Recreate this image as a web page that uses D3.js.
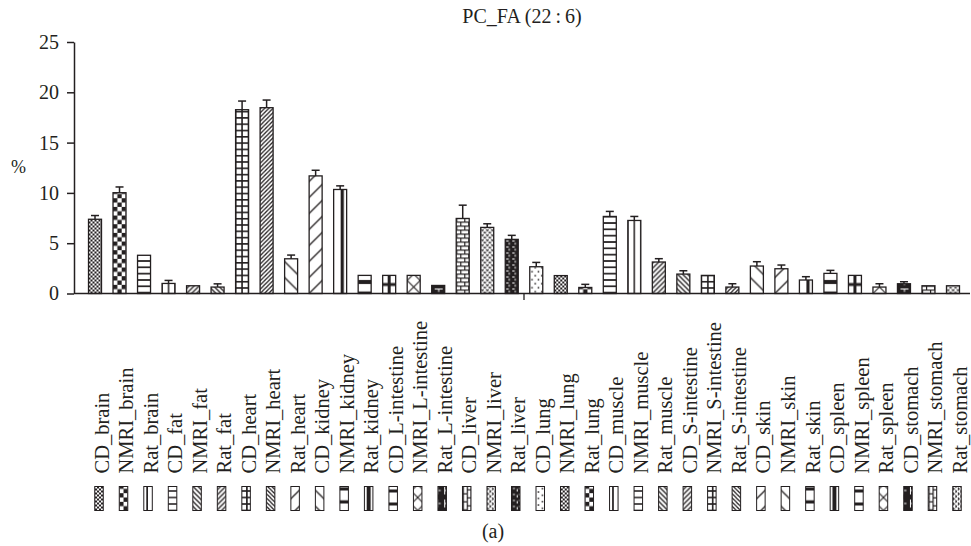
<!DOCTYPE html>
<html>
<head>
<meta charset="utf-8">
<script src="https://cdn.jsdelivr.net/npm/d3@7"></script>
<style>
  html, body { margin: 0; padding: 0; background: #fff; }
  svg { display: block; }
  text { font-family: "Liberation Serif", "Times New Roman", serif; fill: #231f20; }
</style>
</head>
<body>
<svg id="chart" width="971" height="546"></svg>
<script>
// Tissue samples, mean percentage and upper error (SD)
const categories = [
  "CD_brain", "NMRI_brain", "Rat_brain", "CD_fat", "NMRI_fat", "Rat_fat",
  "CD_heart", "NMRI_heart", "Rat_heart", "CD_kidney", "NMRI_kidney", "Rat_kidney",
  "CD_L-intestine", "NMRI_L-intestine", "Rat_L-intestine", "CD_liver", "NMRI_liver", "Rat_liver",
  "CD_lung", "NMRI_lung", "Rat_lung", "CD_muscle", "NMRI_muscle", "Rat_muscle",
  "CD_S-intestine", "NMRI_S-intestine", "Rat_S-intestine", "CD_skin", "NMRI_skin", "Rat_skin",
  "CD_spleen", "NMRI_spleen", "Rat_spleen", "CD_stomach", "NMRI_stomach", "Rat_stomach"
];
const values = [
  7.38, 10.02, 3.8, 1.0, 0.77, 0.64,
  18.27, 18.47, 3.45, 11.69, 10.34, 1.8,
  1.8, 1.8, 0.8, 7.46, 6.57, 5.38,
  2.66, 1.78, 0.6, 7.66, 7.26, 3.13,
  1.93, 1.8, 0.64, 2.73, 2.46, 1.34,
  2.0, 1.8, 0.64, 0.97, 0.77, 0.77
];
const errors = [
  0.37, 0.57, 0, 0.3, 0, 0.32,
  0.86, 0.76, 0.37, 0.56, 0.36, 0,
  0, 0, 0, 1.32, 0.36, 0.4,
  0.43, 0, 0.31, 0.5, 0.4, 0.33,
  0.33, 0, 0.33, 0.43, 0.37, 0.33,
  0.3, 0, 0.33, 0.2, 0, 0
];
const yTicks = [0, 5, 10, 15, 20, 25];
const title = "PC_FA (22\u2009:\u20096)";
const yLabel = "%";
const panelLabel = "(a)";

const INK = "#231f20";
const svg = d3.select("#chart");

// Plot frame
const plotLeft = 74, plotRight = 970, plotTop = 42, plotBottom = 293.5;

const x = d3.scaleBand()
  .domain(categories)
  .range([plotLeft + 8.75, plotRight - 4.75])
  .paddingInner(0.47)
  .paddingOuter(0.235);

const y = d3.scaleLinear().domain([0, 25]).range([plotBottom, plotTop]);

// ---------- fill patterns (cycled over the categories) ----------
const defs = svg.append("defs");
const rectIn = (p, x0, y0, w, h, c = INK) =>
  p.append("rect").attr("x", x0).attr("y", y0).attr("width", w).attr("height", h).attr("fill", c);
const pathIn = (p, d, sw, c = INK) =>
  p.append("path").attr("d", d).attr("fill", "none").attr("stroke", c).attr("stroke-width", sw);

function makePattern(id, w, h, draw, bg = "#fff") {
  const p = defs.append("pattern")
    .attr("id", id)
    .attr("patternUnits", "userSpaceOnUse")
    .attr("width", w).attr("height", h);
  p.append("rect").attr("width", w).attr("height", h).attr("fill", bg);
  draw(p);
}
const fwd = s => `M0,${s} L${s},0 M-1,1 L1,-1 M${s - 1},${s + 1} L${s + 1},${s - 1}`;
const back = s => `M0,0 L${s},${s} M-1,${s - 1} L1,${s + 1} M${s - 1},-1 L${s + 1},1`;

const patternMakers = [
  // 0 fine checker
  id => makePattern(id, 4, 4, p => { rectIn(p, 0, 0, 2, 2); rectIn(p, 2, 2, 2, 2); }),
  // 1 large checker
  id => makePattern(id, 8.66, 8.66, p => { rectIn(p, 0, 0, 4.33, 4.33); rectIn(p, 4.33, 4.33, 4.33, 4.33); }),
  // 2 horizontal lines
  id => makePattern(id, 13, 6.33, p => { rectIn(p, 0, 4.63, 13, 1.7); }),
  // 3 vertical lines
  id => makePattern(id, 6.5, 10, p => { rectIn(p, 0, 0, 0.75, 10); rectIn(p, 5.75, 0, 0.75, 10); }),
  // 4 forward diagonal
  id => makePattern(id, 5, 5, p => pathIn(p, fwd(5), 1.3)),
  // 5 backward diagonal
  id => makePattern(id, 5, 5, p => pathIn(p, back(5), 1.3)),
  // 6 grid
  id => makePattern(id, 6.5, 6.3, p => {
    rectIn(p, 0, 0, 6.5, 1.6); rectIn(p, 0, 0, 0.8, 6.3); rectIn(p, 5.7, 0, 0.8, 6.3);
  }),
  // 7 dense forward diagonal
  id => makePattern(id, 4.2, 4.2, p => pathIn(p, fwd(4.2), 1.3)),
  // 8 wide backward diagonal
  id => makePattern(id, 16, 16, p => pathIn(p, back(16), 1.3)),
  // 9 wide forward diagonal
  id => makePattern(id, 16, 16, p => pathIn(p, fwd(16), 1.3)),
  // 10 heavy vertical stripe
  id => makePattern(id, 13, 10, p => { rectIn(p, 7, 0, 3.2, 10); }),
  // 11 heavy horizontal stripe
  id => makePattern(id, 10, 11.5, p => { rectIn(p, 0, 0, 10, 2); rectIn(p, 0, 9.5, 10, 2); }),
  // 12 heavy cross
  id => makePattern(id, 13, 18, p => { rectIn(p, 5, 0, 3, 18); rectIn(p, 0, 7.5, 13, 3); }),
  // 13 diagonal cross
  id => makePattern(id, 13, 13, p => pathIn(p, "M0,0 L13,13 M13,0 L0,13", 1.1)),
  // 14 dark with light dashes
  id => makePattern(id, 13, 7, p => {
    rectIn(p, 3, 2, 8, 1, "#fff"); rectIn(p, 6.5, 3, 1, 2.5, "#fff");
  }, INK),
  // 15 brick
  id => makePattern(id, 8, 8, p => {
    rectIn(p, 0, 0, 8, 1.2); rectIn(p, 0, 4, 8, 1.2);
    rectIn(p, 4, 0, 1.2, 4); rectIn(p, 0, 4, 1.2, 4);
  }),
  // 16 wave / chevron speckle
  id => makePattern(id, 5, 5, p => {
    pathIn(p, "M0.3,0.8 L1.6,2.2 L2.9,0.8", 1.1);
    pathIn(p, "M2.8,3.3 L4.1,4.7 L5.4,3.3 M-2.2,3.3 L-0.9,4.7 L0.4,3.3", 1.1);
  }),
  // 17 dark with light marks
  id => makePattern(id, 6, 6, p => {
    rectIn(p, 1, 1, 2.5, 1, "#fff"); rectIn(p, 3.5, 3.2, 1, 2, "#fff");
  }, INK),
  // 18 sparse dots
  id => makePattern(id, 6.5, 8, p => { rectIn(p, 1.5, 1.5, 1.5, 1.5); rectIn(p, 4.75, 5.5, 1.5, 1.5); })
];
patternMakers.forEach((mk, k) => mk("fill-" + k));
const fillFor = i => `url(#fill-${i % patternMakers.length})`;

// ---------- axes ----------
const yAxis = svg.append("g")
  .attr("transform", `translate(${plotLeft},0)`)
  .attr("color", INK)
  .call(d3.axisLeft(y).tickValues(yTicks).tickSize(7).tickSizeOuter(0).tickPadding(8));
yAxis.select(".domain").attr("stroke-width", 1.5);
yAxis.selectAll(".tick line").attr("stroke-width", 1.5);
yAxis.selectAll(".tick text")
  .attr("font-family", '"Liberation Serif", "Times New Roman", serif')
  .attr("font-size", 20);

// ---------- bars ----------
const bw = x.bandwidth();
const bars = svg.append("g").selectAll("g")
  .data(categories)
  .join("g")
  .attr("transform", d => `translate(${x(d)},${y(0)})`);

bars.append("rect")
  .attr("x", 0)
  .attr("y", (d, i) => y(values[i]) - y(0))
  .attr("width", bw)
  .attr("height", (d, i) => y(0) - y(values[i]))
  .attr("fill", (d, i) => fillFor(i))
  .attr("stroke", INK)
  .attr("stroke-width", 1.3);

// upper error bars
const errG = svg.append("g").attr("stroke", INK).attr("stroke-width", 1.5);
categories.forEach((c, i) => {
  if (!errors[i]) return;
  const cx = x(c) + bw / 2;
  errG.append("line").attr("x1", cx).attr("x2", cx)
    .attr("y1", y(values[i])).attr("y2", y(values[i] + errors[i]));
  errG.append("line").attr("x1", cx - 4).attr("x2", cx + 4)
    .attr("y1", y(values[i] + errors[i])).attr("y2", y(values[i] + errors[i]));
});

// category axis line with its single centre tick
svg.append("line")
  .attr("x1", plotLeft).attr("x2", plotRight)
  .attr("y1", y(0)).attr("y2", y(0))
  .attr("stroke", INK).attr("stroke-width", 1.5);
const midTick = (x(categories[17]) + x(categories[18]) + bw) / 2;
svg.append("line")
  .attr("x1", midTick).attr("x2", midTick)
  .attr("y1", y(0)).attr("y2", y(0) + 6.5)
  .attr("stroke", INK).attr("stroke-width", 1.3);

// ---------- rotated legend under the axis ----------
const legend = svg.append("g").selectAll("g")
  .data(categories)
  .join("g")
  .attr("transform", d => `translate(${x(d) + bw / 2 + 4},510.5) rotate(-90)`);

legend.append("rect")
  .attr("x", 0).attr("y", -4.25)
  .attr("width", 24).attr("height", 8.5)
  .attr("fill", (d, i) => fillFor(i))
  .attr("stroke", INK)
  .attr("stroke-width", 1);

legend.append("text")
  .attr("x", 37).attr("y", 9.6)
  .attr("font-size", 20.5)
  .text(d => d);

// ---------- titles ----------
svg.append("text")
  .attr("x", (plotLeft + plotRight) / 2).attr("y", 23)
  .attr("text-anchor", "middle")
  .attr("font-size", 20)
  .text(title);

svg.append("text")
  .attr("x", 18.5).attr("y", 173)
  .attr("text-anchor", "middle")
  .attr("font-size", 18)
  .text(yLabel);

svg.append("text")
  .attr("x", 493).attr("y", 538)
  .attr("text-anchor", "middle")
  .attr("font-size", 20)
  .text(panelLabel);
</script>
</body>
</html>
